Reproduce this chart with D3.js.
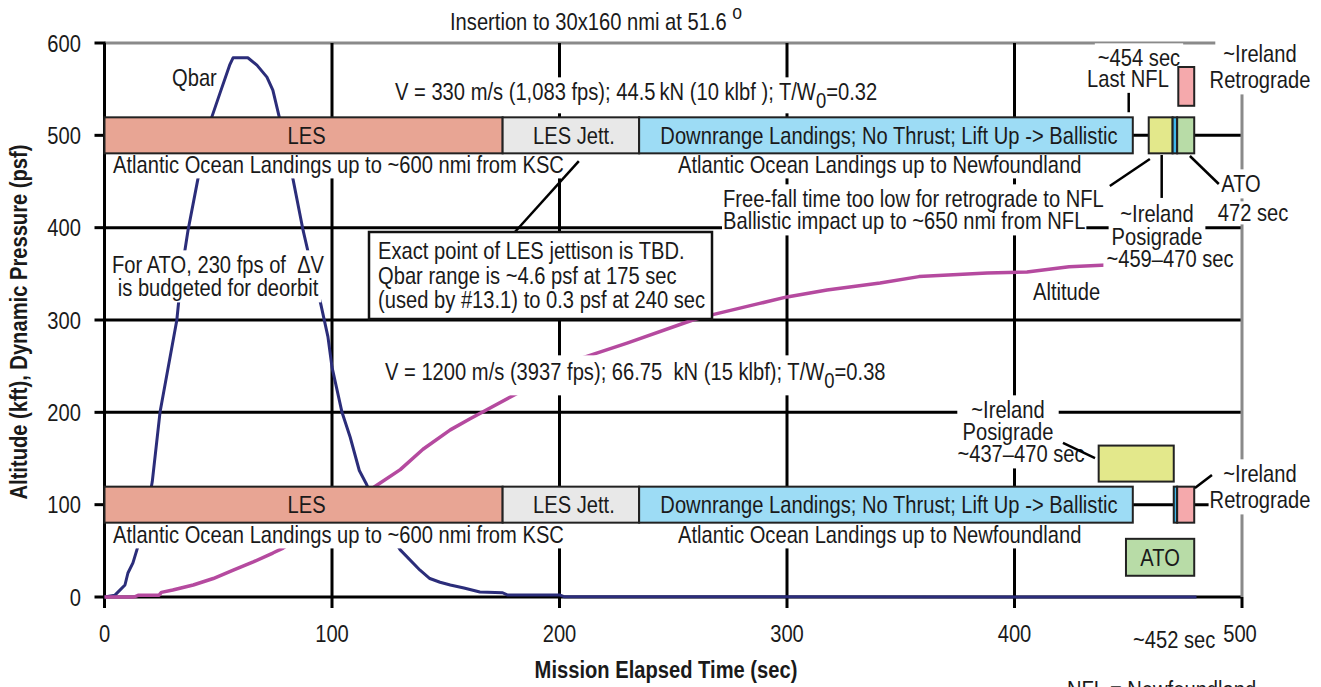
<!DOCTYPE html>
<html>
<head>
<meta charset="utf-8">
<script src="https://cdn.jsdelivr.net/npm/d3@7"></script>
<style>
  body { margin: 0; background: #fff; }
  text { font-family: "Liberation Sans", Arial, sans-serif; fill: #1a1a1a; }
</style>
</head>
<body>
<svg id="chart" width="1321" height="687"></svg>
<script>
// ---------- data ----------
const timeTicks = [0, 100, 200, 300, 400, 500];
const valueTicks = [0, 100, 200, 300, 400, 500, 600];

// Dynamic pressure (psf) vs mission elapsed time (sec)
const qbarTime = [0, 4.6, 9, 10.3, 12.5, 17.8, 21, 24.4, 31.8, 34, 36.7, 41, 47.2, 50.8, 55, 56.5, 63, 67, 71.4, 74,
                  76.8, 82.9, 87.3, 92, 95, 98.2, 100, 104.4, 108, 112, 115, 122.5, 130, 138.7, 143, 147.5, 152, 158, 165, 175,
                  177, 200, 202, 240, 480];
const qbarPsf  = [0, 2, 13, 26, 37, 80, 125, 200, 300, 354, 397, 452, 520, 546, 576, 584, 584, 576, 563, 549,
                  520, 452, 397, 347, 318, 282, 249, 200, 173, 137, 123, 80, 51, 29, 20, 16, 13, 9.7, 5.4, 4.6,
                  2.2, 2.2, 0.3, 0.3, 0];

// Altitude (kft) vs mission elapsed time (sec)
const altTime = [0, 13, 15, 24, 25, 30, 39, 47.8, 56.6, 65.4, 74, 78.5, 119.7, 130, 140, 152, 160.7, 184, 207.7, 229.7,
                 258.6, 266, 288, 300, 317.6, 340.9, 358, 388, 405.5, 424, 440.6];
const altKft  = [0, 0, 2, 2, 5, 7.6, 13, 20, 29, 38, 47.6, 53, 121, 138, 160, 181, 193, 224, 257, 275,
                 300, 305, 318, 325, 332.5, 340, 347, 351, 352, 357.6, 359.6];

// Abort-mode phases along each timeline (sec)
const phaseNames = ["LES", "LES Jett.", "Downrange Landings; No Thrust; Lift Up -> Ballistic"];
const phaseKind  = ["les", "jett", "downrange"];
const phaseStart = [0, 175, 235];
const phaseEnd   = [175, 235, 452];
const bandLevels = [500, 100];      // upper: 330 m/s case, lower: 1200 m/s case
const bandHalf = 19.5;

// Abort landing options (time window, value window on the chart)
const optKind = ["posigrade", "nfl", "ato", "retrograde", "posigrade", "nfl", "retrograde", "ato"];
const optT0   = [459, 469.5, 471.5, 472, 437, 470, 471.5, 449];
const optT1   = [469.5, 471.5, 479, 479, 470, 471.5, 479, 479];
const optV0   = [480.5, 480.5, 480.5, 532, 125, 80.5, 80.5, 23];
const optV1   = [519.5, 519.5, 519.5, 574, 164, 119.5, 119.5, 63];
const optText = ["", "", "", "", "", "", "", "ATO"];

// ---------- styling ----------
const fills = {
  les: "#e8a594", jett: "#e8e8e8", downrange: "#9ddcf5",
  posigrade: "#e3e88b", nfl: "#3fb8ea", ato: "#b8dca7", retrograde: "#f5a9ac"
};
const SX = 0.84;          // horizontal squeeze for a condensed look
const FS = 24;

const svg = d3.select("#chart");
const x = d3.scaleLinear().domain([0, 500]).range([104.5, 1242]);
const y = d3.scaleLinear().domain([0, 600]).range([597, 43]);

// condensed text helper
function ctext(parent, px, py, anchor = "start", size = FS) {
  return parent.append("text")
    .attr("transform", `translate(${px},${py}) scale(${SX},1)`)
    .attr("text-anchor", anchor).attr("font-size", size);
}

// ---------- grid ----------
const grid = svg.append("g");
grid.selectAll("line.h").data(valueTicks).join("line")
  .attr("x1", x(0)).attr("x2", x(500))
  .attr("y1", d => y(d)).attr("y2", d => y(d))
  .attr("stroke", d => d === 600 ? "#8a8a8a" : "#000")
  .attr("stroke-width", 3);
grid.selectAll("line.v").data(timeTicks).join("line")
  .attr("x1", d => x(d)).attr("x2", d => x(d))
  .attr("y1", y(600)).attr("y2", d => d === 500 ? y(0) : y(0) + 11)
  .attr("stroke", d => d === 500 ? "#8a8a8a" : "#000")
  .attr("stroke-width", 3);
grid.append("line").attr("x1", x(500)).attr("x2", x(500)).attr("y1", y(0)).attr("y2", y(0) + 11)
  .attr("stroke", "#000").attr("stroke-width", 3);
grid.selectAll("line.yt").data(valueTicks).join("line")
  .attr("x1", x(0) - 10).attr("x2", x(0) + 1)
  .attr("y1", d => y(d)).attr("y2", d => y(d))
  .attr("stroke", "#000").attr("stroke-width", 3);

// tick labels
const tickG = svg.append("g");
valueTicks.forEach(v => ctext(tickG, 81, y(v) + 8.5, "end").text(v));
timeTicks.forEach(t => ctext(tickG, x(t) - (t === 500 ? 2 : 0), 642, "middle").text(t));

// axis titles
ctext(svg, 666, 678, "middle").attr("font-weight", "bold").text("Mission Elapsed Time (sec)");
svg.append("text").attr("transform", `translate(27,322) rotate(-90) scale(${SX},1)`)
  .attr("text-anchor", "middle").attr("font-size", FS).attr("font-weight", "bold")
  .text("Altitude (kft), Dynamic Pressure (psf)");

// ---------- curves ----------
const line = d3.line().x(d => x(d[0])).y(d => y(d[1]));
svg.append("path").datum(qbarTime.map((t, i) => [t, qbarPsf[i]]))
  .attr("d", line).attr("fill", "none").attr("stroke", "#2b2d7a").attr("stroke-width", 3)
  .attr("stroke-linejoin", "round");
svg.append("path").datum(altTime.map((t, i) => [t, altKft[i]]))
  .attr("d", line).attr("fill", "none").attr("stroke", "#b54a9f").attr("stroke-width", 3.5)
  .attr("stroke-linejoin", "round");

// ---------- annotation text (white backing breaks the lines behind it) ----------
const notesBg = svg.append("g");
const notes = svg.append("g");
function note(parts, px, py, opt = {}) {
  const { anchor = "start", size = FS, bg = true, padX = 3, padY = 1 } = opt;
  const t = ctext(notes, px, py, anchor, size);
  (Array.isArray(parts) ? parts : [{ s: parts }]).forEach(p => {
    const sp = t.append("tspan").text(p.s);
    if (p.dy) sp.attr("dy", p.dy);
    if (p.size) sp.attr("font-size", p.size);
  });
  if (bg) {
    const b = t.node().getBBox();
    notesBg.append("rect")
      .attr("x", px + b.x * SX - padX).attr("y", py + b.y - padY)
      .attr("width", b.width * SX + 2 * padX).attr("height", b.height + 2 * padY)
      .attr("fill", "#fff");
  }
  return t;
}

note([{ s: "Insertion to 30x160 nmi at 51.6 " }, { s: "o", dy: -11, size: 21 }], 450, 30, { bg: false });
note("Qbar", 172, 86, { bg: false });
note([{ s: "V = 330 m/s (1,083 fps); 44.5\u2009kN (10 klbf ); T/W" }, { s: "0", dy: 8, size: 22 }, { s: "=0.32", dy: -8 }], 395, 100);
note("Atlantic Ocean Landings up to ~600 nmi from KSC", 113, 173, { padY: 0 });
note("Atlantic Ocean Landings up to Newfoundland", 678, 173, { padY: 0 });
note("Free-fall time too low for retrograde to NFL", 723, 207, { padX: 1 });
note("Ballistic impact up to ~650 nmi from NFL", 723, 229, { padX: 1 });
note("~454 sec", 1139, 66, { anchor: "middle" });
note("Last NFL", 1128, 87, { anchor: "middle" });
note("~Ireland", 1260, 62, { anchor: "middle", padX: 8 });
note("Retrograde", 1260, 88, { anchor: "middle", padX: 4 });
note("ATO", 1241, 192, { anchor: "middle", padX: 10 });
note("472 sec", 1253, 221, { anchor: "middle", padY: -2 });
note("~Ireland", 1157, 222, { anchor: "middle" });
note("Posigrade", 1157, 245, { anchor: "middle" });
note("~459\u2013470 sec", 1170, 267, { anchor: "middle" });
note("Altitude", 1033, 300);
note("For ATO, 230 fps of\u00a0 \u0394V", 218, 273, { anchor: "middle" });
note("is budgeted for deorbit", 218, 296, { anchor: "middle" });
note([{ s: "V = 1200 m/s (3937 fps); 66.75\u00a0 kN (15 klbf); T/W" }, { s: "0", dy: 8, size: 22 }, { s: "=0.38", dy: -8 }], 385, 380, { padY: 3 });
note("~Ireland", 1008, 418, { anchor: "middle", padX: 14 });
note("Posigrade", 1008, 440, { anchor: "middle" });
note("~437\u2013470 sec", 1021, 462, { anchor: "middle" });
note("~Ireland", 1260, 482, { anchor: "middle" });
note("Retrograde", 1260, 508, { anchor: "middle", padX: 1 });
note("Atlantic Ocean Landings up to ~600 nmi from KSC", 113, 543, { padY: 0 });
note("Atlantic Ocean Landings up to Newfoundland", 678, 543, { padY: 0 });
note("~452 sec", 1133, 648, { bg: false });
note("NFL = Newfoundland", 1067, 698, { bg: false });

// ---------- phase bars ----------
const bars = svg.append("g");
bandLevels.forEach(level => {
  phaseNames.forEach((name, i) => {
    bars.append("rect")
      .attr("x", x(phaseStart[i])).attr("width", x(phaseEnd[i]) - x(phaseStart[i]))
      .attr("y", y(level + bandHalf)).attr("height", y(level - bandHalf) - y(level + bandHalf))
      .attr("fill", fills[phaseKind[i]]).attr("stroke", "#222").attr("stroke-width", 2);
    ctext(bars, x((phaseStart[i] + phaseEnd[i]) / 2) + 3, y(level) + 8.5, "middle").text(name);
  });
});

// abort option boxes
optKind.forEach((k, i) => {
  bars.append("rect")
    .attr("x", x(optT0[i])).attr("width", x(optT1[i]) - x(optT0[i]))
    .attr("y", y(optV1[i])).attr("height", y(optV0[i]) - y(optV1[i]))
    .attr("fill", fills[k]).attr("stroke", "#222").attr("stroke-width", 2);
  if (optText[i]) {
    ctext(bars, x((optT0[i] + optT1[i]) / 2), y((optV0[i] + optV1[i]) / 2) + 8.5, "middle").text(optText[i]);
  }
});

// ---------- leader lines (time, value) ----------
const leaders = [
  [[208.5, 472], [180.4, 395.3]],
  [[450.2, 546], [450.2, 525]],
  [[459.5, 474.4], [441.9, 445.1]],
  [[464.7, 478.7], [464.7, 432.2]],
  [[477.1, 477.6], [489.8, 447.3]],
  [[421.3, 166.8], [435.4, 150.5]],
  [[479.3, 118], [486.8, 132]]
];
svg.append("g").selectAll("line").data(leaders).join("line")
  .attr("x1", d => x(d[0][0])).attr("y1", d => y(d[0][1]))
  .attr("x2", d => x(d[1][0])).attr("y2", d => y(d[1][1]))
  .attr("stroke", "#000").attr("stroke-width", 2.5);

// ---------- callout box ----------
const callout = svg.append("g");
callout.append("rect").attr("x", 369).attr("y", 232).attr("width", 343).attr("height", 87)
  .attr("fill", "#fff").attr("stroke", "#111").attr("stroke-width", 2.5);
["Exact point of LES jettison is TBD.",
 "Qbar range is ~4.6 psf at 175 sec",
 "(used by #13.1) to 0.3 psf at 240 sec"].forEach((s, i) => {
  ctext(callout, 378, 259 + i * 24.5).text(s);
});
</script>
</body>
</html>
